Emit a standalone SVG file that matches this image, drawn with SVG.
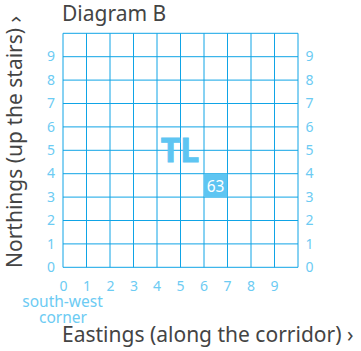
<svg xmlns="http://www.w3.org/2000/svg" width="361" height="351" viewBox="0 0 361 351">
<style>
.t{font-family:"Noto Sans","Open Sans","DejaVu Sans",sans-serif;fill:#444}
.n{font-family:"Noto Sans","Open Sans","DejaVu Sans",sans-serif;fill:#6ccbf3;font-size:14px;text-anchor:middle}
.o{font-size:15.5px}
.g line{stroke:#0fa4e6;stroke-width:1}
</style>
<rect width="361" height="351" fill="#fff"/>
<g id="title"><text class="t" x="62" y="21" font-size="21">Diagram B</text></g>
<g id="grid" class="g">
<line x1="63" y1="33.3" x2="63" y2="267.3"/>
<line x1="86.5" y1="33.3" x2="86.5" y2="267.3"/>
<line x1="110" y1="33.3" x2="110" y2="267.3"/>
<line x1="133.5" y1="33.3" x2="133.5" y2="267.3"/>
<line x1="157" y1="33.3" x2="157" y2="267.3"/>
<line x1="180.5" y1="33.3" x2="180.5" y2="267.3"/>
<line x1="204" y1="33.3" x2="204" y2="267.3"/>
<line x1="227.5" y1="33.3" x2="227.5" y2="267.3"/>
<line x1="251" y1="33.3" x2="251" y2="267.3"/>
<line x1="274.5" y1="33.3" x2="274.5" y2="267.3"/>
<line x1="298" y1="33.3" x2="298" y2="267.3"/>
<line x1="63" y1="33.3" x2="298" y2="33.3"/>
<line x1="63" y1="56.7" x2="298" y2="56.7"/>
<line x1="63" y1="80.1" x2="298" y2="80.1"/>
<line x1="63" y1="103.5" x2="298" y2="103.5"/>
<line x1="63" y1="126.9" x2="298" y2="126.9"/>
<line x1="63" y1="150.3" x2="298" y2="150.3"/>
<line x1="63" y1="173.7" x2="298" y2="173.7"/>
<line x1="63" y1="197.1" x2="298" y2="197.1"/>
<line x1="63" y1="220.5" x2="298" y2="220.5"/>
<line x1="63" y1="243.9" x2="298" y2="243.9"/>
<line x1="63" y1="267.3" x2="298" y2="267.3"/>
</g>
<g id="northing-labels-left">
<text class="n" x="51" y="272">0</text>
<text class="n" x="51" y="248.6">1</text>
<text class="n" x="51" y="225.2">2</text>
<text class="n" x="51" y="201.8">3</text>
<text class="n" x="51" y="178.4">4</text>
<text class="n" x="51" y="155">5</text>
<text class="n" x="51" y="131.6">6</text>
<text class="n" x="51" y="108.2">7</text>
<text class="n" x="51" y="84.8">8</text>
<text class="n" x="51" y="61.4">9</text>
</g>
<g id="northing-labels-right">
<text class="n" x="309.5" y="272">0</text>
<text class="n" x="309.5" y="248.6">1</text>
<text class="n" x="309.5" y="225.2">2</text>
<text class="n" x="309.5" y="201.8">3</text>
<text class="n" x="309.5" y="178.4">4</text>
<text class="n" x="309.5" y="155">5</text>
<text class="n" x="309.5" y="131.6">6</text>
<text class="n" x="309.5" y="108.2">7</text>
<text class="n" x="309.5" y="84.8">8</text>
<text class="n" x="309.5" y="61.4">9</text>
</g>
<g id="easting-labels">
<text class="n" x="63.5" y="291">0</text>
<text class="n" x="87" y="291">1</text>
<text class="n" x="110.5" y="291">2</text>
<text class="n" x="134" y="291">3</text>
<text class="n" x="157" y="291">4</text>
<text class="n" x="180.5" y="291">5</text>
<text class="n" x="204" y="291">6</text>
<text class="n" x="227.5" y="291">7</text>
<text class="n" x="251" y="291">8</text>
<text class="n" x="274.5" y="291">9</text>
</g>
<g id="origin-label">
<text class="n o" x="62.5" y="307">south-west</text>
<text class="n o" x="63" y="322.5">corner</text>
</g>
<g id="tl"><text x="180" y="161.7" font-family="Noto Sans,Open Sans,sans-serif" font-weight="bold" font-size="34" fill="#5ec5f2" stroke="#5ec5f2" stroke-width="0.8" text-anchor="middle">TL</text></g>
<g id="cell-63">
<rect x="204" y="173.7" width="23.5" height="23.4" fill="#5ec5f2"/>
<text x="215.5" y="192" font-family="Noto Sans,Open Sans,sans-serif" font-size="15.5" fill="#fff" text-anchor="middle">63</text>
</g>
<g id="axis-east"><text class="t" x="62" y="342" font-size="21">Eastings (along the corridor) ›</text></g>
<g id="axis-north"><text class="t" font-size="21" transform="translate(22,268) rotate(-90)">Northings (up the stairs) ›</text></g>
</svg>
